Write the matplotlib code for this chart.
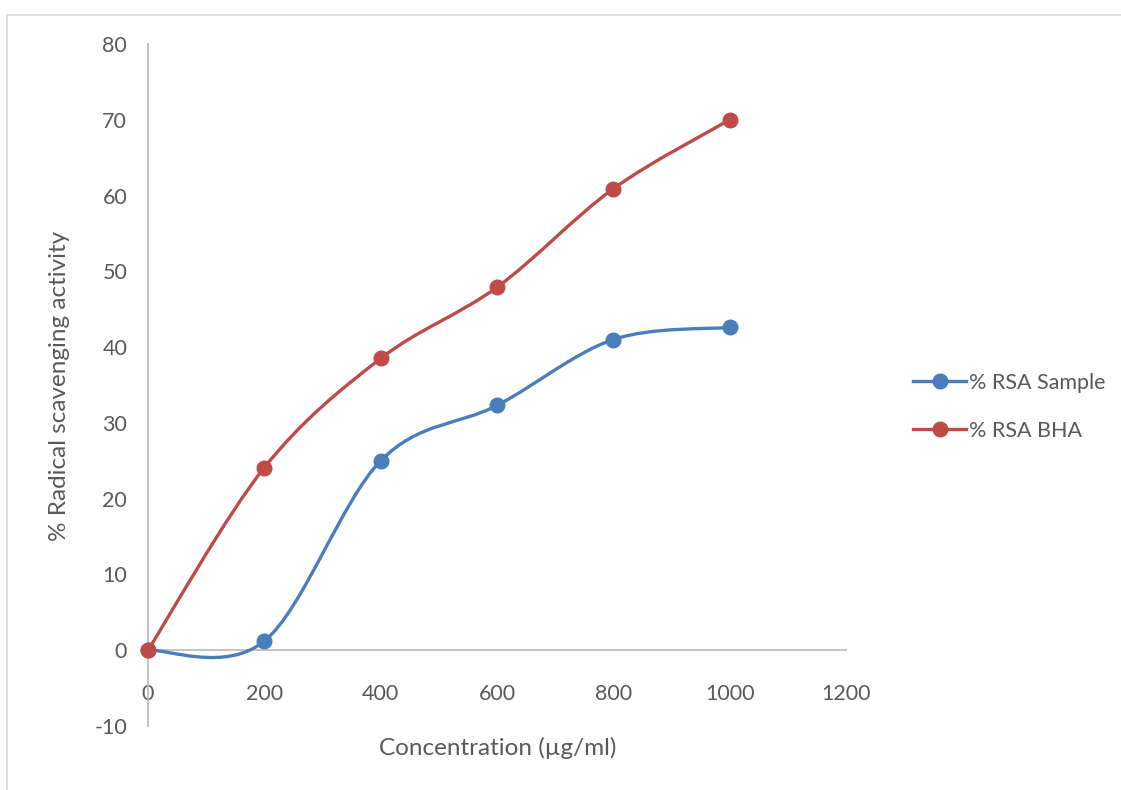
import matplotlib
matplotlib.use("Agg")
import matplotlib.pyplot as plt
from matplotlib.path import Path
from matplotlib.patches import PathPatch
from matplotlib.lines import Line2D

plt.rcParams['font.family'] = ['Lato', 'DejaVu Sans']
plt.rcParams['axes.unicode_minus'] = False

concentration = [0, 200, 400, 600, 800, 1000]
rsa_sample = [0, 1.2, 25.0, 32.3, 41.0, 42.6]
rsa_bha = [0, 24.1, 38.5, 47.9, 60.9, 70.0]
series_names = ['% RSA Sample', '% RSA BHA']
colors = ['#4A7EBB', '#BE4B48']
xticks = [0, 200, 400, 600, 800, 1000, 1200]
yticks = [-10, 0, 10, 20, 30, 40, 50, 60, 70, 80]

W, H = 1121, 790
fig = plt.figure(figsize=(W / 100, H / 100), dpi=100)
ax = fig.add_axes([148 / W, 1 - 726 / H, (846 - 148) / W, (726 - 44) / H])

def smooth_path(xs, ys):
    pts = list(zip(xs, ys))
    n = len(pts)
    verts = [pts[0]]
    codes = [Path.MOVETO]
    for i in range(n - 1):
        p0 = pts[i - 1] if i > 0 else pts[i]
        p1 = pts[i]
        p2 = pts[i + 1]
        p3 = pts[i + 2] if i + 2 < n else pts[i + 1]
        c1 = (p1[0] + (p2[0] - p0[0]) / 6, p1[1] + (p2[1] - p0[1]) / 6)
        c2 = (p2[0] - (p3[0] - p1[0]) / 6, p2[1] - (p3[1] - p1[1]) / 6)
        verts += [c1, c2, p2]
        codes += [Path.CURVE4] * 3
    return Path(verts, codes)

gray = '#BFBFBF'
ax.set_xlim(0, 1200)
ax.set_ylim(-10, 80)
for s in ['top', 'right']:
    ax.spines[s].set_visible(False)
ax.spines['bottom'].set_position(('data', 0))
ax.spines['left'].set_position(('data', 0))
for s in ['bottom', 'left']:
    ax.spines[s].set_color(gray)
    ax.spines[s].set_linewidth(1.3)

handles = []
for ys, col, name in zip([rsa_sample, rsa_bha], colors, series_names):
    patch = PathPatch(smooth_path(concentration, ys), facecolor='none',
                      edgecolor=col, lw=2.4, capstyle='round', zorder=3)
    ax.add_patch(patch)
    ax.plot(concentration, ys, linestyle='none', marker='o', ms=10.5,
            color=col, zorder=4, clip_on=False)
    handles.append(Line2D([], [], color=col, lw=2.4, marker='o', ms=10.5))

ax.set_xticks(xticks)
ax.set_yticks(yticks)
ax.tick_params(axis='both', length=0, labelsize=15.5, colors='#595959')
ax.tick_params(axis='x', pad=24)
ax.tick_params(axis='y', pad=15)

fig.text(498 / W, 1 - 748 / H, 'Concentration (µg/ml)', ha='center', va='center',
         fontsize=17.5, color='#595959')
fig.text(60 / W, 1 - 386 / H, '% Radical scavenging activity', ha='center', va='center',
         rotation=90, fontsize=17.5, color='#595959')

leg = fig.legend(handles, series_names, loc='center left',
                 bbox_to_anchor=(904 / W, 1 - 407 / H), frameon=False,
                 fontsize=15.5, handlelength=2.5, labelspacing=1.3,
                 handletextpad=0.1, borderaxespad=0)
for t in leg.get_texts():
    t.set_color('#595959')

# outer chart border
fig.add_artist(Line2D([7 / W, 1.0], [1 - 15 / H, 1 - 15 / H], transform=fig.transFigure,
                      color='#D9D9D9', lw=1.2))
fig.add_artist(Line2D([7 / W, 7 / W], [1 - 15 / H, 0.0], transform=fig.transFigure,
                      color='#D9D9D9', lw=1.2))

fig.savefig('out.png', dpi=100)
